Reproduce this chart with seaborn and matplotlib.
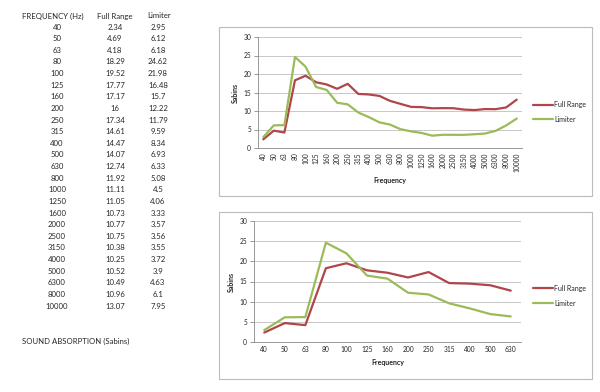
import matplotlib
matplotlib.use("Agg")
import matplotlib.pyplot as plt
from matplotlib.patches import Rectangle
from matplotlib.lines import Line2D
import seaborn as sns
import pandas as pd

frequencies = ["40", "50", "63", "80", "100", "125", "160", "200", "250", "315",
               "400", "500", "630", "800", "1000", "1250", "1600", "2000", "2500",
               "3150", "4000", "5000", "6300", "8000", "10000"]
full_range = [2.34, 4.69, 4.18, 18.29, 19.52, 17.77, 17.17, 16, 17.34, 14.61,
              14.47, 14.07, 12.74, 11.92, 11.11, 11.05, 10.73, 10.77, 10.75,
              10.38, 10.25, 10.52, 10.49, 10.96, 13.07]
limiter = [2.95, 6.12, 6.18, 24.62, 21.98, 16.48, 15.7, 12.22, 11.79, 9.59,
           8.34, 6.93, 6.33, 5.08, 4.5, 4.06, 3.33, 3.57, 3.56, 3.55, 3.72,
           3.9, 4.63, 6.1, 7.95]
full_range_text = ["2.34", "4.69", "4.18", "18.29", "19.52", "17.77", "17.17", "16",
                   "17.34", "14.61", "14.47", "14.07", "12.74", "11.92", "11.11",
                   "11.05", "10.73", "10.77", "10.75", "10.38", "10.25", "10.52",
                   "10.49", "10.96", "13.07"]
limiter_text = ["2.95", "6.12", "6.18", "24.62", "21.98", "16.48", "15.7", "12.22",
                "11.79", "9.59", "8.34", "6.93", "6.33", "5.08", "4.5", "4.06",
                "3.33", "3.57", "3.56", "3.55", "3.72", "3.9", "4.63", "6.1", "7.95"]
n_zoom = 13  # second chart shows 40..630 Hz

W, H = 600, 392
RED = "#B0454A"
GREEN = "#9BBB59"


def px_rect(x0, y0, x1, y1):
    return [x0 / W, 1 - y1 / H, (x1 - x0) / W, (y1 - y0) / H]


sns.set_style("white")
plt.rcParams["font.family"] = ["Lato", "DejaVu Sans"]

fig = plt.figure(figsize=(W / 100, H / 100), dpi=100)

# table on the left
tsize = 5.6
fig.text(53 / W, 1 - 16 / H, "FREQUENCY (Hz)", ha="center", va="center", fontsize=tsize)
fig.text(115 / W, 1 - 16 / H, "Full Range", ha="center", va="center", fontsize=tsize)
fig.text(159 / W, 1 - 16 / H, "Limiter", ha="center", va="center", fontsize=tsize)
for i, f in enumerate(frequencies):
    y = 1 - (27 + i * 11.63) / H
    fig.text(57 / W, y, f, ha="center", va="center", fontsize=tsize)
    fig.text(115 / W, y, full_range_text[i], ha="center", va="center", fontsize=tsize)
    fig.text(158 / W, y, limiter_text[i], ha="center", va="center", fontsize=tsize)
fig.text(22 / W, 1 - 341 / H, "SOUND ABSORPTION (Sabins)", ha="left", va="center",
         fontsize=tsize)


def draw_chart(ax, n, rotate):
    df = pd.DataFrame({
        "Frequency": list(range(n)) * 2,
        "Sabins": full_range[:n] + limiter[:n],
        "Series": ["Full Range"] * n + ["Limiter"] * n,
    })
    sns.lineplot(data=df, x="Frequency", y="Sabins", hue="Series",
                 palette={"Full Range": RED, "Limiter": GREEN},
                 linewidth=1.6, ax=ax, legend=False)
    ax.set_xlim(-0.5, n - 0.5)
    ax.set_ylim(0, 30)
    ax.set_yticks(range(0, 31, 5))
    ax.set_xticks(range(n))
    ax.set_xticklabels(frequencies[:n], rotation=90 if rotate else 0, fontsize=4.8)
    ax.set_xticks([i - 0.5 for i in range(n + 1)], minor=True)
    ax.tick_params(axis="x", which="major", length=0, pad=3)
    ax.tick_params(axis="x", which="minor", length=3, color="#888888", width=0.6)
    ax.tick_params(axis="y", labelsize=4.8, length=3, color="#888888", width=0.6,
                   left=True, pad=2)
    ax.yaxis.grid(True, color="#BFBFBF", linewidth=0.6)
    ax.set_axisbelow(True)
    for s in ["top", "right"]:
        ax.spines[s].set_visible(False)
    for s in ["left", "bottom"]:
        ax.spines[s].set_color("#888888")
        ax.spines[s].set_linewidth(0.6)
    ax.set_xlabel("Frequency", fontsize=5, fontweight="bold", labelpad=4)
    ax.set_ylabel("Sabins", fontsize=5, fontweight="bold", labelpad=3)


def draw_legend(y_full, y_lim):
    for y, name, c in [(y_full, "Full Range", RED), (y_lim, "Limiter", GREEN)]:
        fig.add_artist(Line2D([533 / W, 553 / W], [1 - y / H, 1 - y / H],
                              color=c, linewidth=1.6))
        fig.text(554 / W, 1 - y / H, name, ha="left", va="center", fontsize=5)


# chart frames
for (x0, y0, x1, y1) in [(219, 27, 592, 196), (219, 212, 592, 379)]:
    fig.add_artist(Rectangle((x0 / W, 1 - y1 / H), (x1 - x0) / W, (y1 - y0) / H,
                             transform=fig.transFigure, fill=False,
                             edgecolor="#BBBBBB", linewidth=0.8))

ax1 = fig.add_axes(px_rect(258, 37, 522, 148))
draw_chart(ax1, len(frequencies), True)
draw_legend(105, 119)

ax2 = fig.add_axes(px_rect(254, 221, 521, 342))
draw_chart(ax2, n_zoom, False)
draw_legend(288, 303)

fig.savefig("out.png", dpi=100)
